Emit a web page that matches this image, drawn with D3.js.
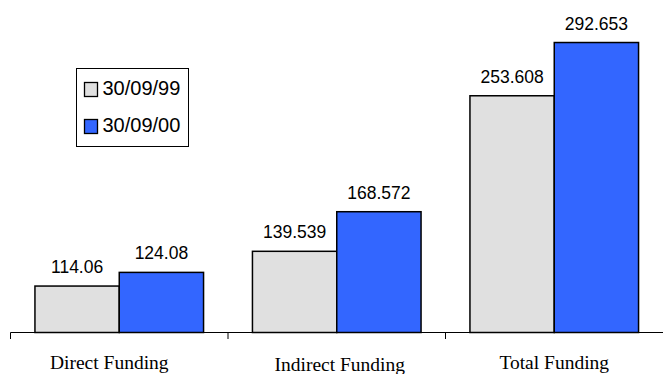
<!DOCTYPE html>
<html>
<head>
<meta charset="utf-8">
<script src="https://cdn.jsdelivr.net/npm/d3@7"></script>
<style>
  html, body { margin: 0; padding: 0; background: #fff; }
  svg { display: block; }
</style>
</head>
<body>
<div id="chart"></div>
<script>
// data
const categories = ["Direct Funding", "Indirect Funding", "Total Funding"];
const seriesNames = ["30/09/99", "30/09/00"];
const values99 = [114.06, 139.539, 253.608];
const values00 = [124.08, 168.572, 292.653];

const colors = ["#e0e0e0", "#3366ff"];

const width = 663, height = 374;

const svg = d3.select("#chart")
  .append("svg")
    .attr("width", width)
    .attr("height", height);

// category bands, axis runs off the right edge
const x0 = d3.scaleBand()
  .domain(categories)
  .range([10.5, 663])
  .padding(0);

const x1 = d3.scaleBand()
  .domain(seriesNames)
  .range([0, x0.bandwidth()])
  .paddingInner(0)
  .paddingOuter(0.29);

// value axis does not start at zero
const y = d3.scaleLinear()
  .domain([80, 300])
  .range([332.5, 32.5]);

const rows = categories.map((c, i) => ({
  category: c,
  items: [
    { series: seriesNames[0], value: values99[i] },
    { series: seriesNames[1], value: values00[i] }
  ]
}));

const groups = svg.selectAll("g.group")
  .data(rows)
  .join("g")
    .attr("class", "group")
    .attr("transform", d => `translate(${x0(d.category)},0)`);

groups.selectAll("rect")
  .data(d => d.items)
  .join("rect")
    .attr("x", d => x1(d.series))
    .attr("y", d => y(d.value))
    .attr("width", x1.bandwidth())
    .attr("height", d => y(80) - y(d.value))
    .attr("fill", (d, i) => colors[i])
    .attr("stroke", "#000")
    .attr("stroke-width", 1.5);

// value labels above the bars
groups.selectAll("text.val")
  .data(d => d.items)
  .join("text")
    .attr("class", "val")
    .attr("x", d => x1(d.series) + x1.bandwidth() / 2)
    .attr("y", d => y(d.value) - 13)
    .attr("text-anchor", "middle")
    .style("font-family", "Arial, 'Liberation Sans', sans-serif")
    .style("font-size", "17.5px")
    .attr("fill", "#000")
    .text(d => d.value);

// x axis line with tick marks at band edges
const axis = d3.axisBottom(x0).tickSize(0).tickFormat("");
svg.append("g")
  .attr("transform", "translate(0,332.5)")
  .call(axis)
  .call(g => g.select(".domain").attr("d", "M10.5,0H663").attr("stroke", "#000").attr("stroke-width", 1.2));

svg.append("g")
  .selectAll("line")
  .data(categories)
  .join("line")
    .attr("x1", d => x0(d))
    .attr("x2", d => x0(d))
    .attr("y1", 332.5)
    .attr("y2", 339)
    .attr("stroke", "#000")
    .attr("stroke-width", 1);

// category labels (slightly staggered, like the original)
const labelShift = [[-10, 0], [3, 2], [0, 0]];
svg.append("g")
  .selectAll("text")
  .data(categories)
  .join("text")
    .attr("x", (d, i) => x0(d) + x0.bandwidth() / 2 + labelShift[i][0])
    .attr("y", (d, i) => 369 + labelShift[i][1])
    .attr("text-anchor", "middle")
    .style("font-family", "'Times New Roman', 'Liberation Serif', serif")
    .style("font-size", "19.5px")
    .attr("fill", "#000")
    .text(d => d);

// legend
const legend = svg.append("g").attr("transform", "translate(76.5,68.5)");
legend.append("rect")
  .attr("width", 112)
  .attr("height", 78)
  .attr("fill", "#fff")
  .attr("stroke", "#000")
  .attr("stroke-width", 1);

const li = legend.selectAll("g.item")
  .data(seriesNames)
  .join("g")
    .attr("class", "item")
    .attr("transform", (d, i) => `translate(8,${14 + i * 37})`);

li.append("rect")
  .attr("width", 13)
  .attr("height", 14)
  .attr("fill", (d, i) => colors[i])
  .attr("stroke", "#000")
  .attr("stroke-width", 1.3);

li.append("text")
  .attr("x", 18)
  .attr("y", 12.5)
  .style("font-family", "Arial, 'Liberation Sans', sans-serif")
  .style("font-size", "20px")
  .attr("fill", "#000")
  .text(d => d);
</script>
</body>
</html>
